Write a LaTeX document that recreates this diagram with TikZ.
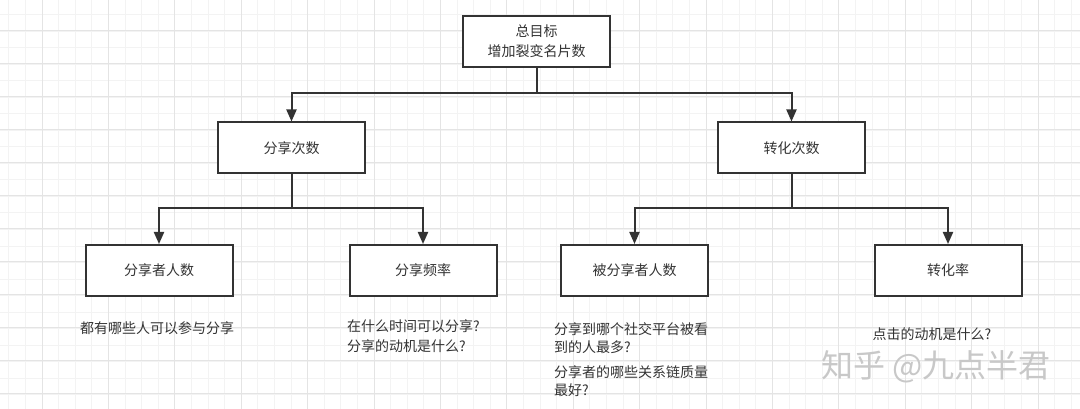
\documentclass[tikz,border=0pt]{standalone}
\usepackage{fontspec}
\setmainfont{Noto Sans CJK SC}
\usetikzlibrary{arrows.meta}
\definecolor{ink}{HTML}{333333}
\definecolor{gridminor}{HTML}{F3F3F3}
\definecolor{gridmajor}{HTML}{E4E4E4}
\definecolor{wm}{HTML}{C8C8C8}
\begin{document}
\begin{tikzpicture}[x=1pt,y=-1pt,
  box/.style={draw=ink, line width=2pt, fill=white, minimum width=147pt, minimum height=51pt,
    inner sep=0pt, font=\fontsize{14}{20}\selectfont, text=ink, align=center},
  conn/.style={draw=ink, line width=2pt, -{Triangle[width=10pt,length=12pt]}},
  note/.style={font=\fontsize{14}{20}\selectfont, text=ink, align=left, anchor=west, inner sep=0pt}]
\useasboundingbox (0,0) rectangle (1080,409);
\fill[white] (0,0) rectangle (1080,409);
% grid
\foreach \i in {0,...,66} {
  \draw[gridminor, line width=1pt] ({8.8+16.6*\i},0) -- ({8.8+16.6*\i},409);
}
\foreach \i in {0,...,25} {
  \draw[gridminor, line width=1pt] (0,{-1.5+16.5*\i}) -- (1080,{-1.5+16.5*\i});
}
\foreach \i in {0,...,16} {
  \draw[gridmajor, line width=1pt] ({42-66.4+66.4*\i},0) -- ({42-66.4+66.4*\i},409);
}
\foreach \i in {0,...,12} {
  \draw[gridmajor, line width=1pt] (0,{30.7-33+33*\i}) -- (1080,{30.7-33+33*\i});
}
% nodes
\node[box] (top) at (536.5,41.5) {总目标\\增加裂变名片数};
\node[box] (share) at (291.5,148) {分享次数};
\node[box] (conv) at (791.5,148) {转化次数};
\node[box] (sharers) at (159,270.5) {分享者人数};
\node[box] (freq) at (423,270.5) {分享频率};
\node[box] (shared) at (634.5,270.5) {被分享者人数};
\node[box] (rate) at (948,270.5) {转化率};
% connectors
\draw[conn] (top.south) -- ++(0,25) -| (share.north);
\draw[conn] (top.south) -- ++(0,25) -| (conv.north);
\draw[conn] (share.south) -- ++(0,34) -| (sharers.north);
\draw[conn] (share.south) -- ++(0,34) -| (freq.north);
\draw[conn] (conv.south) -- ++(0,34) -| (shared.north);
\draw[conn] (conv.south) -- ++(0,34) -| (rate.north);
% notes
\node[note] (n1) at (80,328) {都有哪些人可以参与分享};
\node[note] (n2) at (347,336) {在什么时间可以分享?\\分享的动机是什么?};
\node[note, font=\fontsize{14}{18}\selectfont] (n3) at (554,338) {分享到哪个社交平台被看\\到的人最多?};
\node[note, font=\fontsize{14}{18}\selectfont] (n4) at (554,381) {分享者的哪些关系链质量\\最好?};
\node[note, anchor=center] (n5) at (932,334) {点击的动机是什么?};
% watermark
\node[font=\fontsize{32}{36}\selectfont, text=wm, inner sep=0pt] (wmark) at (936,367) {知乎 @九点半君};
\end{tikzpicture}
\end{document}
